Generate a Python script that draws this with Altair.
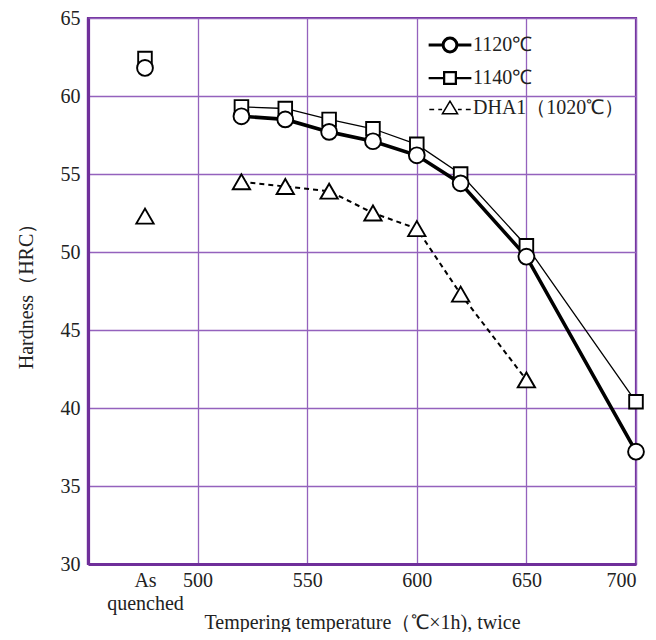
import altair as alt
import pandas as pd

# ---- data ----
series_names = ["1120℃", "1140℃", "DHA1（1020℃）"]
quench_x = 476  # position of the "As quenched" column on the temperature axis
quench_vals = [61.8, 62.4, 52.3]

temps = [520, 540, 560, 580, 600, 620, 650, 700]
h1120 = [58.7, 58.5, 57.7, 57.1, 56.2, 54.4, 49.7, 37.2]
h1140 = [59.3, 59.2, 58.5, 57.9, 56.9, 55.0, 50.4, 40.4]
temps_dha = [520, 540, 560, 580, 600, 620, 650]
h_dha = [54.5, 54.2, 53.9, 52.5, 51.5, 47.3, 41.8]

x_ticks = [quench_x, 500, 550, 600, 650, 700]
y_ticks = [30, 35, 40, 45, 50, 55, 60, 65]

rows = []
for t, v in zip(temps, h1120):
    rows.append({"series": series_names[0], "temp": t, "hrc": v, "kind": "tempered"})
for t, v in zip(temps, h1140):
    rows.append({"series": series_names[1], "temp": t, "hrc": v, "kind": "tempered"})
for t, v in zip(temps_dha, h_dha):
    rows.append({"series": series_names[2], "temp": t, "hrc": v, "kind": "tempered"})
for s, v in zip(series_names, quench_vals):
    rows.append({"series": s, "temp": quench_x, "hrc": v, "kind": "quenched"})
df = pd.DataFrame(rows)

FONT = "Liberation Serif"
GRID = "#9462bd"
BORDER = "#6f2f9a"

xscale = alt.Scale(domain=[450, 700], nice=False, zero=False)
yscale = alt.Scale(domain=[30, 65], nice=False, zero=False)

xenc = alt.X(
    "temp:Q", scale=xscale,
    axis=alt.Axis(
        values=x_ticks, title="Tempering temperature（℃×1h), twice",
        labelExpr=f"datum.value == {quench_x} ? ['As', 'quenched'] : datum.label",
        ticks=False, labelPadding=6, labelOverlap=False, labelLineHeight=23,
        labelBaseline="top",
        gridOpacity={"condition": {"test": f"datum.value == {quench_x}", "value": 0}, "value": 1},
        titleY=58, titleBaseline="middle",
    ),
)
yenc = alt.Y(
    "hrc:Q", scale=yscale,
    axis=alt.Axis(values=y_ticks, title="Hardness（HRC）", ticks=False,
                  labelPadding=8, titleX=-52),
)

base = alt.Chart(df)


def series(name):
    return base.transform_filter(alt.datum.series == name)


line1120 = series(series_names[0]).transform_filter(alt.datum.kind == "tempered").mark_line(
    color="black", strokeWidth=3.6).encode(x=xenc, y=yenc)
line1140 = series(series_names[1]).transform_filter(alt.datum.kind == "tempered").mark_line(
    color="black", strokeWidth=1.3).encode(x=xenc, y=yenc)
linedha = series(series_names[2]).transform_filter(alt.datum.kind == "tempered").mark_line(
    color="black", strokeWidth=2, strokeDash=[5, 4]).encode(x=xenc, y=yenc)

pt_sq = series(series_names[1]).mark_point(
    shape="square", size=185, filled=True, fill="white", stroke="black",
    strokeWidth=1.9, opacity=1).encode(x=xenc, y=yenc)
pt_tri = series(series_names[2]).mark_point(
    shape="triangle-up", size=300, filled=True, fill="white", stroke="black",
    strokeWidth=1.9, opacity=1).encode(x=xenc, y=yenc)
pt_cir = series(series_names[0]).mark_point(
    shape="circle", size=250, filled=True, fill="white", stroke="black",
    strokeWidth=1.9, opacity=1).encode(x=xenc, y=yenc)

legend_paths = [
    "M-3.1,0L-1,0M1,0L3.1,0M1,0A1,1,0,1,1,-1,0A1,1,0,1,1,1,0Z",
    "M-3.1,0L-0.85,0M0.85,0L3.1,0M-0.85,-0.85L0.85,-0.85L0.85,0.85L-0.85,0.85Z",
    "M-3.0,0.2L-2.3,0.2M-1.7,0.2L-1.15,0.2M1.15,0.2L1.7,0.2M2.3,0.2L3.0,0.2"
    "M0,-1.0L-1.1,0.85L1.1,0.85Z",
]

leg_common = dict(
    title=None, orient="none", legendX=352, legendY=17, symbolSize=190,
    symbolOpacity=1, labelFont=FONT, labelFontSize=20, labelColor="#222",
    labelOffset=13, rowPadding=9, padding=0,
)

legend_layer = base.transform_filter(alt.datum.kind == "tempered").mark_point(
    opacity=0, color="black", filled=False).encode(
    x=xenc, y=yenc,
    shape=alt.Shape("series:N", scale=alt.Scale(domain=series_names, range=legend_paths),
                    legend=alt.Legend(**leg_common)),
    strokeWidth=alt.StrokeWidth("series:N", scale=alt.Scale(domain=series_names, range=[3.0, 1.5, 1.8]),
                                legend=alt.Legend(**leg_common)),
)

chart = alt.layer(
    line1140, line1120, linedha, pt_sq, pt_tri, pt_cir, legend_layer
).properties(
    width=548, height=546,
    autosize=alt.AutoSizeParams(type="none"),
    padding={"left": 80, "top": 10, "right": 12, "bottom": 68},
).configure_view(
    stroke=BORDER, strokeWidth=2.2,
).configure_axis(
    labelFont=FONT, labelFontSize=20, labelColor="#222",
    titleFont=FONT, titleFontSize=20, titleColor="#222", titleFontWeight="normal",
    gridColor=GRID, gridWidth=1.3, domainColor=BORDER, domainWidth=3.2,
).configure_legend(
    symbolStrokeColor="black",
)

chart.save("out.html", embed_options={"renderer": "svg", "actions": False})
